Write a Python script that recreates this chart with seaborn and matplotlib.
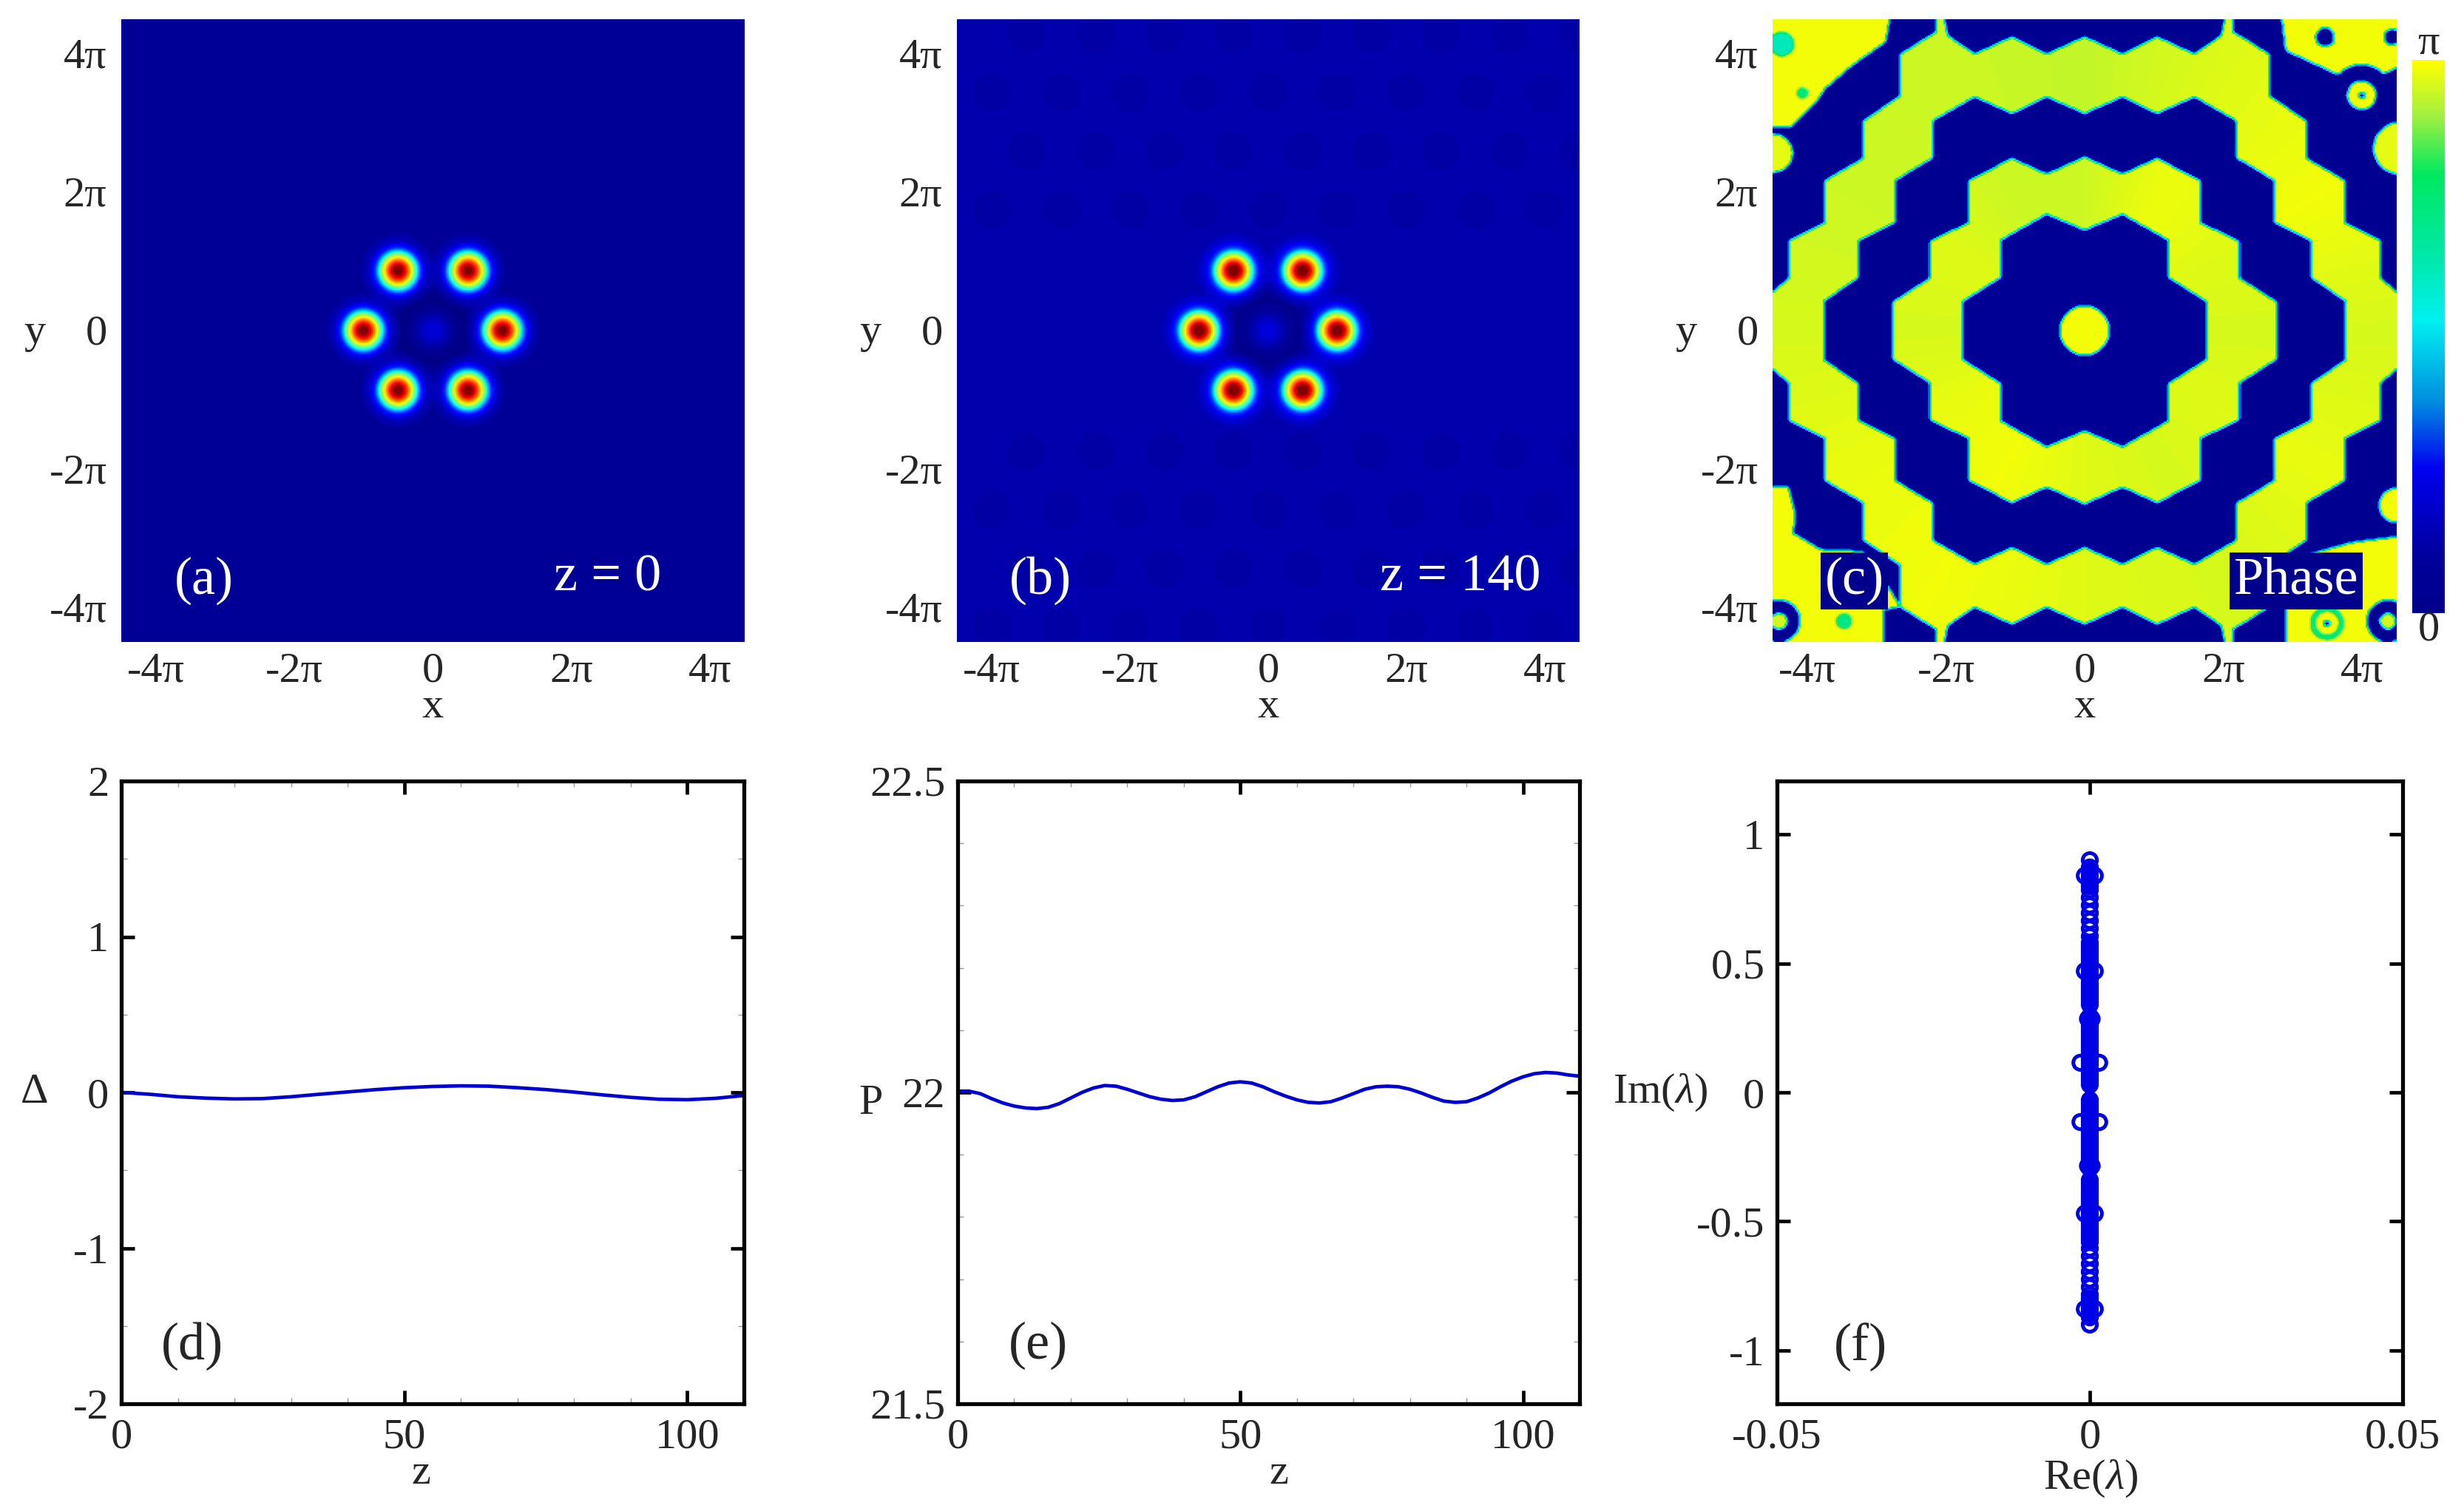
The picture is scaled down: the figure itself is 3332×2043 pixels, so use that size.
import numpy as np
import matplotlib
matplotlib.use("Agg")
import matplotlib.pyplot as plt
import seaborn as sns
from matplotlib.path import Path
from matplotlib.colors import LinearSegmentedColormap
from matplotlib.ticker import MultipleLocator
from matplotlib.transforms import ScaledTranslation

# Panel (a), (b): soliton sites and radial intensity, lengths in units of pi
PEAK_X = [-1.0, -0.5, 0.5, 1.0, 0.5, -0.5]
PEAK_Y = [0.0, 0.866, 0.866, 0.0, -0.866, -0.866]
PROFILE_R = [0.0, 0.055, 0.125, 0.19, 0.235, 0.275, 0.335, 0.415, 0.56]
PROFILE_A = [1.0, 0.97, 0.85, 0.65, 0.50, 0.35, 0.15, 0.04, 0.0]
CENTRE_R = [0.0, 0.10, 0.20, 0.30, 0.45, 0.70]
CENTRE_A = [0.075, 0.065, 0.035, 0.012, 0.0, 0.02]
BACKGROUND_A = 0.02
BACKGROUND_B = 0.04
RIPPLE_X = [-4.0, -3.0, -2.0, -1.0, 0.0, 1.0, 2.0, 3.0, 4.0]
RIPPLE_Y = [-4.3, -3.45, -2.6, -1.75, 1.75, 2.6, 3.45, 4.3]

# Panel (c): phase band outlines in the upper right quadrant, units of pi
R1I_X = [0, 0.55, 1.22, 1.22, 1.76, 1.77]
R1I_Y = [1.45, 1.68, 1.30, 0.76, 0.42, 0]
R1O_X = [0, 0.55, 1.05, 1.69, 1.69, 2.24, 2.24, 2.77, 2.77]
R1O_Y = [2.52, 2.27, 2.50, 2.17, 1.56, 1.30, 0.76, 0.42, 0]
R2I_X = [0, 0.55, 1.05, 1.59, 2.19, 2.19, 2.73, 2.73, 3.27, 3.27, 3.77, 3.77]
R2I_Y = [3.14, 3.38, 3.14, 3.38, 3.04, 2.50, 2.17, 1.56, 1.30, 0.76, 0.42, 0]
R2O_X = [0, 0.55, 1.05, 1.59, 1.98, 2.05, 2.15, 2.15, 2.66, 2.66, 3.2, 3.2, 3.77, 3.77, 4.28, 4.28, 4.6, 4.6]
R2O_Y = [4.26, 4.01, 4.26, 4.01, 4.28, 4.6, 4.6, 4.33, 4.01, 3.41, 3.04, 2.5, 2.17, 1.56, 1.30, 0.76, 0.49, 0]
RING1_SHADE = [0.955, 0.965, 0.98, 0.945, 0.945, 0.965, 0.955, 0.975, 0.985, 0.965, 0.955, 0.965]
RING2_SHADE = [0.955, 0.985, 0.965, 0.935, 0.945, 0.945, 0.955, 0.975, 0.985, 0.965, 0.955, 0.975]
SHADE_ANGLE = [0, 30, 60, 90, 120, 150, 180, 210, 240, 270, 300, 330]

CORNER_UR_X = [2.83, 2.90, 3.64, 4.31, 4.6, 4.6]
CORNER_UR_Y = [4.6, 4.05, 3.71, 3.71, 3.85, 4.6]
CORNER_UL_X = [-4.6, -2.8, -2.87, -3.34, -3.74, -3.88, -4.25, -4.6]
CORNER_UL_Y = [4.6, 4.6, 4.18, 3.85, 3.51, 3.31, 2.94, 2.94]
CORNER_LL_X = [-4.6, -4.28, -4.18, -4.21, -3.81, -3.2, -2.9, -2.66, -2.9, -2.9, -4.6]
CORNER_LL_Y = [-2.26, -2.26, -2.66, -2.93, -3.17, -3.2, -3.6, -4.0, -4.05, -4.6, -4.6]
CORNER_LR_X = [2.9, 2.9, 2.66, 2.66, 3.84, 4.6, 4.6]
CORNER_LR_Y = [-4.6, -3.97, -3.94, -3.4, -3.07, -2.97, -4.6]

# small vortex spots in the corners of (c): drawn in this order
SPOT_X = [3.47, 4.44, 4.0, 4.0, 4.0, 4.55, -4.38, -4.08, -4.5, -4.42, -4.42, -3.48, 3.5, 3.5, 3.5, 4.38, 4.38, 4.5]
SPOT_Y = [4.25, 4.25, 3.41, 3.41, 3.41, 2.64, 4.15, 3.44, 2.57, -4.21, -4.21, -4.21, -4.24, -4.24, -4.24, -4.21, -4.21, -2.53]
SPOT_R = [0.13, 0.11, 0.44, 0.21, 0.04, 0.38, 0.17, 0.08, 0.28, 0.30, 0.12, 0.11, 0.24, 0.17, 0.04, 0.30, 0.12, 0.25]
SPOT_V = [0.03, 0.03, 0.03, 0.985, 0.03, 0.97, 0.62, 0.75, 0.97, 0.03, 0.95, 0.72, 0.72, 0.985, 0.03, 0.03, 0.95, 0.985]
CORE_R = 0.36
DARK_CENTRE = 0.06
DARK_MIDDLE = 0.03
YELLOW = 0.985

PHASE_STOPS = [0.0, 0.10, 0.26, 0.385, 0.53, 0.66, 0.795, 0.90, 1.0]
PHASE_COLORS = ["#00008c", "#00009c", "#0000f0", "#0090e0", "#00f0f0", "#00e8a0", "#00e860", "#a0f040", "#ffff00"]

PI_TICKS = [-4, -2, 0, 2, 4]
PI_LABELS = ["-4π", "-2π", "0", "2π", "4π"]

# Panel (d)
DELTA_Z = [0, 5, 10, 15, 20, 25, 30, 35, 40, 45, 50, 55, 60, 65, 70, 75, 80, 85, 90, 95, 100, 105, 110]
DELTA_V = [0.0, -0.012, -0.028, -0.037, -0.042, -0.04, -0.028, -0.012, 0.003, 0.018, 0.03, 0.038, 0.042, 0.04, 0.03, 0.018, 0.002, -0.016, -0.032, -0.044, -0.047, -0.038, -0.02]

# Panel (e)
POWER_Z = [0, 2, 4, 6, 8, 10, 12, 14, 16, 18, 20, 22, 24, 26, 28, 30, 32, 34, 36, 38, 40, 42, 44, 46, 48, 50, 52, 54,
           56, 58, 60, 62, 64, 66, 68, 70, 72, 74, 76, 78, 80, 82, 84, 86, 88, 90, 92, 94, 96, 98, 100, 102, 104, 106, 108, 110]
POWER_V = [22.002, 22.002, 21.998, 21.990, 21.983, 21.978, 21.975, 21.974, 21.976, 21.982, 21.991, 22.000, 22.007, 22.011,
           22.010, 22.005, 21.999, 21.993, 21.989, 21.987, 21.988, 21.993, 22.001, 22.009, 22.015, 22.017, 22.015, 22.009,
           22.001, 21.994, 21.988, 21.984, 21.983, 21.985, 21.991, 21.998, 22.005, 22.009, 22.010, 22.009, 22.005, 21.999,
           21.992, 21.986, 21.984, 21.985, 21.991, 21.999, 22.009, 22.018, 22.025, 22.030, 22.032, 22.031, 22.028, 22.026]

# Panel (f): spectrum, upper half, the lower half is its conjugate
IM_COLUMN = [0.03, 0.042, 0.054, 0.066, 0.078, 0.09, 0.102, 0.114, 0.126, 0.138, 0.15, 0.162, 0.174, 0.186, 0.198, 0.21, 0.222, 0.234, 0.246, 0.258, 0.27, 0.282, 0.294,
             0.34, 0.352, 0.364, 0.376, 0.388, 0.40, 0.412, 0.424, 0.436, 0.448, 0.46, 0.472, 0.484, 0.496, 0.508, 0.52, 0.532, 0.544, 0.556, 0.568, 0.58,
             0.605, 0.635, 0.665, 0.695, 0.725, 0.755, 0.785, 0.80, 0.812, 0.824, 0.836, 0.848, 0.86, 0.872, 0.90]
IM_SIDE = [0.115, 0.285, 0.47, 0.84]
RE_SIDE = [0.0015, 0.0003, 0.0008, 0.0008]

WIDTH, HEIGHT = 3332, 2043
GRID_N = 421
LINE_BLUE = "#0000d0"
TICK_SIZE = 21
NOTE_SIZE = 26


def make_axes(fig, left, top, right, bottom):
    return fig.add_axes([left / WIDTH, 1 - bottom / HEIGHT, (right - left) / WIDTH, (bottom - top) / HEIGHT])


def full_outline(xs, ys):
    q = list(zip(xs, ys))
    pts = q + [(x, -y) for x, y in q[::-1]] + [(-x, -y) for x, y in q] + [(-x, y) for x, y in q[::-1]]
    return Path(pts + [pts[0]])


def amplitude_field(x, y, background, ripple=0.0):
    z = np.full(x.shape, float(background))
    r0 = np.hypot(x, y)
    z = z + np.interp(r0, CENTRE_R, CENTRE_A, right=0.0) - background * (r0 < 0.7) * 0.7
    for sx in RIPPLE_X:
        for i, sy in enumerate(RIPPLE_Y):
            shift = 0.5 * (i % 2)
            z = z - ripple * (np.hypot(x - sx - shift, y - sy) < 0.28)
    for px, py in zip(PEAK_X, PEAK_Y):
        z = z + np.interp(np.hypot(x - px, y - py), PROFILE_R, PROFILE_A)
    return np.clip(z, 0, 1)


def box_blur(z, width):
    kernel = np.ones(width) / width
    pad = width // 2
    z = np.pad(z, pad, mode="edge")
    z = np.apply_along_axis(lambda m: np.convolve(m, kernel, mode="same"), 0, z)
    z = np.apply_along_axis(lambda m: np.convolve(m, kernel, mode="same"), 1, z)
    return z[pad:-pad, pad:-pad]


def phase_field(x, y):
    pts = np.column_stack([x.ravel(), y.ravel()])
    inside = lambda path: path.contains_points(pts).reshape(x.shape)
    in_r1i = inside(full_outline(R1I_X, R1I_Y))
    in_r1o = inside(full_outline(R1O_X, R1O_Y))
    in_r2i = inside(full_outline(R2I_X, R2I_Y))
    in_r2o = inside(full_outline(R2O_X, R2O_Y))
    angle = np.degrees(np.arctan2(y, x)) % 360

    z = np.full(x.shape, float(DARK_MIDDLE))
    z[in_r1i] = DARK_CENTRE
    ring1 = in_r1o & ~in_r1i
    ring2 = in_r2o & ~in_r2i
    z[ring1] = np.interp(angle[ring1], SHADE_ANGLE, RING1_SHADE, period=360)
    z[ring2] = np.interp(angle[ring2], SHADE_ANGLE, RING2_SHADE, period=360)
    z[np.hypot(x, y) < CORE_R] = YELLOW
    for cx, cy in [(CORNER_UR_X, CORNER_UR_Y), (CORNER_UL_X, CORNER_UL_Y),
                   (CORNER_LL_X, CORNER_LL_Y), (CORNER_LR_X, CORNER_LR_Y)]:
        z[inside(Path(list(zip(cx, cy)) + [(cx[0], cy[0])]))] = YELLOW
    for sx, sy, sr, sv in zip(SPOT_X, SPOT_Y, SPOT_R, SPOT_V):
        z[np.hypot(x - sx, y - sy) < sr] = sv
    return box_blur(z, 3)


def style_map(ax):
    pos = (np.array(PI_TICKS) + 4.5) / 9 * GRID_N
    ax.set_xticks(pos)
    ax.set_xticklabels(PI_LABELS, rotation=0)
    ax.set_yticks(pos[::-1])
    ax.set_yticklabels(PI_LABELS, rotation=0)
    ax.tick_params(length=0, labelsize=TICK_SIZE)
    ax.tick_params(axis="x", pad=5)
    ax.tick_params(axis="y", pad=7)
    # y labels of the maps sit a little below their positions in the reference
    nudge = ScaledTranslation(0, -5 / 200, fig.dpi_scale_trans)
    for lab in ax.get_yticklabels():
        lab.set_transform(lab.get_transform() + nudge)
    ax.set_xlabel("x", fontsize=TICK_SIZE)
    ax.set_ylabel("y", fontsize=TICK_SIZE, rotation=0)
    ax.xaxis.set_label_coords(0.5, -0.105)
    ax.yaxis.set_label_coords(-0.139, 0.497)
    ax.xaxis.label.set_va("center")
    ax.yaxis.label.set_va("center")


def style_frame(ax):
    for sp in ax.spines.values():
        sp.set_visible(True)
        sp.set_linewidth(1.9)
        sp.set_color("black")
    ax.tick_params(which="major", direction="in", top=True, right=True, bottom=True, left=True,
                   length=6.5, width=1.7, labelsize=TICK_SIZE, color="black")
    ax.tick_params(which="minor", direction="in", top=True, right=True, bottom=True, left=True,
                   length=3, width=0.5, color="#999999")
    ax.tick_params(axis="x", which="major", pad=7)
    ax.tick_params(axis="y", which="major", pad=6)


sns.set_theme(style="white")
plt.rcParams["font.family"] = ["Liberation Serif", "DejaVu Serif"]
plt.rcParams["mathtext.fontset"] = "custom"
plt.rcParams["mathtext.rm"] = "Liberation Serif"
plt.rcParams["mathtext.it"] = "Liberation Serif:italic"
plt.rcParams["axes.unicode_minus"] = False

fig = plt.figure(figsize=(WIDTH / 200, HEIGHT / 200), dpi=200, facecolor="white")

axis_pi = np.linspace(-4.5, 4.5, GRID_N)
grid_x, grid_y = np.meshgrid(axis_pi, axis_pi[::-1])
phase_cmap = LinearSegmentedColormap.from_list("phase", list(zip(PHASE_STOPS, PHASE_COLORS)))

ax_a = make_axes(fig, 164, 26, 1007, 868)
sns.heatmap(amplitude_field(grid_x, grid_y, BACKGROUND_A), cmap="jet", vmin=0, vmax=1, cbar=False, ax=ax_a)
style_map(ax_a)
ax_a.text(0.133, 0.098, "(a)", color="white", fontsize=NOTE_SIZE, ha="center", va="center", transform=ax_a.transAxes)
ax_a.text(0.78, 0.103, "z = 0", color="white", fontsize=NOTE_SIZE, ha="center", va="center", transform=ax_a.transAxes)

ax_b = make_axes(fig, 1294, 26, 2136, 868)
sns.heatmap(amplitude_field(grid_x, grid_y, BACKGROUND_B, ripple=0.006), cmap="jet", vmin=0, vmax=1, cbar=False, ax=ax_b)
style_map(ax_b)
ax_b.text(0.134, 0.098, "(b)", color="white", fontsize=NOTE_SIZE, ha="center", va="center", transform=ax_b.transAxes)
ax_b.text(0.808, 0.103, "z = 140", color="white", fontsize=NOTE_SIZE, ha="center", va="center", transform=ax_b.transAxes)

ax_c = make_axes(fig, 2397, 26, 3241, 868)
cax = make_axes(fig, 3262, 81, 3306, 829)
sns.heatmap(phase_field(grid_x, grid_y), cmap=phase_cmap, vmin=0, vmax=1, ax=ax_c, cbar_ax=cax,
            cbar_kws={"ticks": [0.5]})
style_map(ax_c)
box = dict(facecolor="#00008c", edgecolor="none", pad=2)
ax_c.text(0.131, 0.098, "(c)", color="white", fontsize=NOTE_SIZE, ha="center", va="center", transform=ax_c.transAxes, bbox=box)
ax_c.text(0.839, 0.098, "Phase", color="white", fontsize=NOTE_SIZE, ha="center", va="center", transform=ax_c.transAxes, bbox=box)
cax.set_yticklabels([])
cax.tick_params(length=3, width=0.6, direction="in", color="#333333", right=True)
cax.text(0.5, 1.03, "π", fontsize=TICK_SIZE, ha="center", va="center", transform=cax.transAxes)
cax.text(0.5, -0.03, "0", fontsize=TICK_SIZE, ha="center", va="center", transform=cax.transAxes)

ax_d = make_axes(fig, 164, 1056, 1006, 1898)
sns.lineplot(x=DELTA_Z, y=DELTA_V, color=LINE_BLUE, linewidth=1.7, ax=ax_d)
ax_d.set_xlim(0, 110)
ax_d.set_ylim(-2, 2)
ax_d.set_xticks([0, 50, 100])
ax_d.set_yticks([-2, -1, 0, 1, 2])
ax_d.xaxis.set_minor_locator(MultipleLocator(10))
ax_d.yaxis.set_minor_locator(MultipleLocator(0.5))
style_frame(ax_d)
ax_d.set_xlabel("z", fontsize=TICK_SIZE)
ax_d.set_ylabel("Δ", fontsize=TICK_SIZE, rotation=0)
ax_d.xaxis.set_label_coords(0.481, -0.112)
ax_d.yaxis.set_label_coords(-0.139, 0.5)
ax_d.text(0.114, 0.093, "(d)", fontsize=NOTE_SIZE, ha="center", va="center", transform=ax_d.transAxes)

ax_e = make_axes(fig, 1295, 1056, 2136, 1898)
sns.lineplot(x=POWER_Z, y=POWER_V, color=LINE_BLUE, linewidth=1.7, ax=ax_e)
ax_e.set_xlim(0, 110)
ax_e.set_ylim(21.5, 22.5)
ax_e.set_xticks([0, 50, 100])
ax_e.set_yticks([21.5, 22, 22.5])
ax_e.set_yticklabels(["21.5", "22", "22.5"])
ax_e.xaxis.set_minor_locator(MultipleLocator(10))
ax_e.yaxis.set_minor_locator(MultipleLocator(0.1))
style_frame(ax_e)
ax_e.set_xlabel("z", fontsize=TICK_SIZE)
ax_e.set_ylabel("P", fontsize=TICK_SIZE, rotation=0)
ax_e.xaxis.set_label_coords(0.517, -0.112)
ax_e.yaxis.set_label_coords(-0.14, 0.482)
ax_e.text(0.129, 0.093, "(e)", fontsize=NOTE_SIZE, ha="center", va="center", transform=ax_e.transAxes)

ax_f = make_axes(fig, 2403, 1056, 3249, 1898)
re_vals = [0.0] * len(IM_COLUMN) + [0.0] * len(IM_COLUMN)
im_vals = list(IM_COLUMN) + [-v for v in IM_COLUMN]
for re, im in zip(RE_SIDE, IM_SIDE):
    re_vals += [re, -re, re, -re]
    im_vals += [im, im, -im, -im]
sns.scatterplot(x=re_vals, y=im_vals, marker="o", s=48, facecolor="none", edgecolor="#0000e6", linewidth=1.8, ax=ax_f)
ax_f.set_xlim(-0.05, 0.05)
ax_f.set_ylim(-1.207, 1.207)
ax_f.set_xticks([-0.05, 0, 0.05])
ax_f.set_xticklabels(["-0.05", "0", "0.05"])
ax_f.set_yticks([-1, -0.5, 0, 0.5, 1])
ax_f.set_yticklabels(["-1", "-0.5", "0", "0.5", "1"])
style_frame(ax_f)
ax_f.set_xlabel(r"Re($\lambda$)", fontsize=TICK_SIZE)
ax_f.set_ylabel(r"Im($\lambda$)", fontsize=TICK_SIZE, rotation=0)
ax_f.xaxis.set_label_coords(0.502, -0.12)
ax_f.yaxis.set_label_coords(-0.186, 0.5)
ax_f.text(0.133, 0.09, "(f)", fontsize=NOTE_SIZE, ha="center", va="center", transform=ax_f.transAxes)

for ax in (ax_d, ax_e, ax_f):
    ax.xaxis.label.set_va("center")
    ax.yaxis.label.set_va("center")

fig.savefig("out.png", dpi=200, facecolor="white")
